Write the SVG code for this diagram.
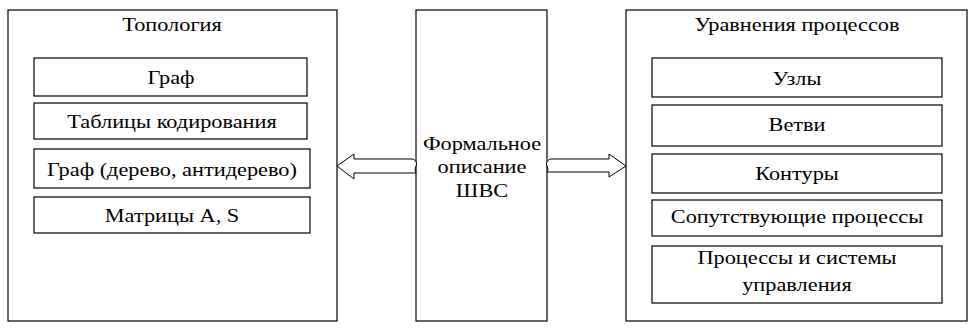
<svg xmlns="http://www.w3.org/2000/svg" width="968" height="331" viewBox="0 0 968 331">
<style>
.box{fill:#fff;stroke:#000;stroke-width:1.2}
.arr{fill:#fff;stroke:#000;stroke-width:1}
text{font-family:"Liberation Serif","Times New Roman",serif;font-size:18px;text-anchor:middle;fill:#000}
</style>
<rect width="968" height="331" fill="#fff"/>
<g id="topology">
<rect class="box" x="8" y="10" width="329" height="311"/>
<text transform="matrix(1.24 0 0 1 172 31)">Топология</text>
</g>
<g id="graph">
<rect class="box" x="34" y="58" width="273" height="38"/>
<text transform="matrix(1.24 0 0 1 171 84)">Граф</text>
</g>
<g id="tables">
<rect class="box" x="34" y="103" width="273" height="36"/>
<text transform="matrix(1.24 0 0 1 172 128)">Таблицы кодирования</text>
</g>
<g id="graph-tree">
<rect class="box" x="34" y="149" width="276" height="39"/>
<text transform="matrix(1.24 0 0 1 172 176)">Граф (дерево, антидерево)</text>
</g>
<g id="matrices">
<rect class="box" x="34" y="197" width="276" height="36"/>
<text transform="matrix(1.24 0 0 1 172 222)">Матрицы A, S</text>
</g>
<g id="formal">
<rect class="box" x="416" y="10" width="131" height="311"/>
<text transform="matrix(1.24 0 0 1 482 150)">Формальное</text>
<text transform="matrix(1.24 0 0 1 482 173)">описание</text>
<text transform="matrix(1.24 0 0 1 482 197)">ШВС</text>
</g>
<g id="equations">
<rect class="box" x="626" y="10" width="341" height="311"/>
<text transform="matrix(1.24 0 0 1 797 31)">Уравнения процессов</text>
</g>
<g id="nodes">
<rect class="box" x="652" y="58" width="290" height="39"/>
<text transform="matrix(1.24 0 0 1 797 85)">Узлы</text>
</g>
<g id="branches">
<rect class="box" x="652" y="105" width="290" height="41"/>
<text transform="matrix(1.24 0 0 1 797 131)">Ветви</text>
</g>
<g id="contours">
<rect class="box" x="652" y="154" width="290" height="39"/>
<text transform="matrix(1.24 0 0 1 797 180)">Контуры</text>
</g>
<g id="accompanying">
<rect class="box" x="652" y="200" width="290" height="36"/>
<text transform="matrix(1.24 0 0 1 797 223)">Сопутствующие процессы</text>
</g>
<g id="control">
<rect class="box" x="652" y="246" width="290" height="57"/>
<text transform="matrix(1.24 0 0 1 797 264)">Процессы и системы</text>
<text transform="matrix(1.24 0 0 1 797 291)">управления</text>
</g>
<g id="connectors">
<path class="arr" d="M337,166 L354,154 L354,159 L413,159 Q418,162 416,166 Q414,170 416,173 L354,173 L354,179 Z"/>
<path class="arr" d="M626,166 L609,154 L609,159 L550,159 Q545,162 547,166 Q549,170 547,172 L609,172 L609,177 Z"/>
</g>
</svg>
